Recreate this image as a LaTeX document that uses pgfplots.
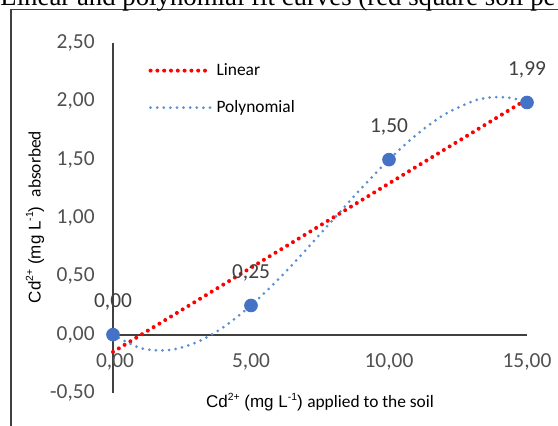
\documentclass[border=0pt]{standalone}
\usepackage{fontspec}
\setmainfont{Carlito}
\newfontfamily\arialf{Liberation Sans}
\newfontfamily\timesf{Liberation Serif}
\usepackage{pgfplots}
\pgfplotsset{compat=1.18}
\definecolor{tickgray}{HTML}{505050}
\definecolor{lblgray}{HTML}{404040}
\definecolor{axgray}{HTML}{404040}
\definecolor{ptblue}{HTML}{4472C4}
\definecolor{polyblue}{HTML}{5B8FD0}
\newcommand{\sups}[1]{\raisebox{0.45em}{\fontsize{5.2}{6}\selectfont #1}}
\begin{document}
\begin{tikzpicture}
\begin{axis}[
  at={(0pt,0pt)}, anchor=south west,
  scale only axis, width=207pt, height=175pt,
  xmin=0, xmax=15, ymin=-0.5, ymax=2.5,
  axis x line=middle, axis y line=left,
  axis line style={-, axgray, line width=0.9pt},
  xtick={0,5,10,15}, ytick={-0.5,0,0.5,1,1.5,2,2.5},
  major tick length=0pt,
  clip=false,
  /pgf/number format/.cd, fixed, fixed zerofill, precision=2, use comma, assume math mode=true, 1000 sep={},
  /pgfplots/.cd,
  tick label style={font=\fontsize{10.7}{12}\selectfont, text=tickgray},
  xticklabel style={anchor=center, yshift=-13.5pt},
  yticklabel style={anchor=east, inner sep=0pt, xshift=-9pt},
  legend style={at={(axis description cs:0.085,0.955)}, anchor=north west, draw=none, fill=none,
    font=\fontsize{8.7}{10}\selectfont, row sep=7pt, inner sep=0pt},
  legend cell align=left,
  legend image code/.code={\draw[#1] (0pt,0pt) -- (30pt,0pt);},
]
\addplot[red, line width=2pt, line cap=round, dash pattern=on 0pt off 3.4pt] coordinates {(0,-0.148) (15,2.018)};
\addlegendentry{Linear}
\addplot[polyblue, line width=1.5pt, line cap=round, dash pattern=on 0pt off 3.3pt, smooth] coordinates {
  (0,0) (1,-0.115) (2,-0.133) (3,-0.069) (4,0.064) (5,0.25) (6,0.476) (7,0.729) (8,0.993)
  (9,1.255) (10,1.5) (11,1.715) (12,1.886) (13,1.998) (13.5,2.028) (14,2.037) (14.5,2.025) (15,1.99)};
\addlegendentry{Polynomial}
\addplot[only marks, mark=*, mark size=3.2pt, color=ptblue, forget plot,
  nodes near coords, point meta=y,
  nodes near coords style={anchor=center, yshift=16.5pt, font=\fontsize{10.7}{12}\selectfont, text=lblgray}]
  coordinates {(0,0) (5,0.25) (10,1.5) (15,1.99)};
\node[anchor=center, yshift=-13.5pt, xshift=1pt, font=\fontsize{10.7}{12}\selectfont, text=tickgray] at (axis cs:0,0) {0,00};
\end{axis}
\node[anchor=center, inner sep=0pt] at (103.5pt,-4.5pt)
  {{\arialf\fontsize{8.5}{10}\selectfont Cd\sups{2+} (mg L\sups{-1})} \fontsize{8.7}{10}\selectfont applied to the soil};
\node[anchor=center, inner sep=0pt, rotate=90] at (-39pt,88pt)
  {{\arialf\fontsize{8.5}{10}\selectfont Cd\sups{2+} (mg L\sups{-1})}\ \ \fontsize{8.7}{10}\selectfont absorbed};
\draw[gray!50!black, line width=0.6pt] (-51pt,-30pt) -- (-51pt,191.8pt) -- (240pt,191.8pt);
\node[anchor=base west, inner sep=0pt, font=\timesf\fontsize{13.4}{15}\selectfont] at (-56.5pt,193.5pt)
  {Linear and polynomial fit curves (red square soil pe};
\pgfresetboundingbox
\useasboundingbox (-56.5pt,-16.5pt) rectangle (222.5pt,196.5pt);
\end{tikzpicture}
\end{document}
